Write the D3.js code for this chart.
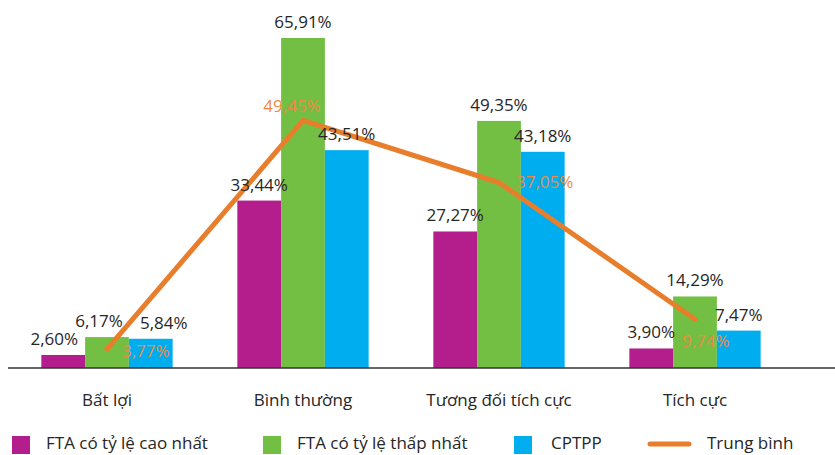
<!DOCTYPE html>
<html lang="vi">
<head>
<meta charset="UTF-8">
<title>Chart</title>
<script src="https://d3js.org/d3.v7.min.js"></script>
<style>
    body { margin: 0; background: #fff; }
    svg text { font-family: "Open Sans", sans-serif; fill: #262626; }
</style>
</head>
<body>
<svg id="chart"></svg>
<script>
const categories = ["Bất lợi", "Bình thường", "Tương đối tích cực", "Tích cực"];
const seriesNames = ["FTA có tỷ lệ cao nhất", "FTA có tỷ lệ thấp nhất", "CPTPP"];
const ftaHigh = [2.60, 33.44, 27.27, 3.90];
const ftaLow = [6.17, 65.91, 49.35, 14.29];
const cptpp = [5.84, 43.51, 43.18, 7.47];
const average = [3.77, 49.45, 37.05, 9.74];
const lineName = "Trung bình";

const width = 835, height = 455;
const colors = ["#b31e8c", "#72bf44", "#00aeef"];
const lineColor = "#e87e2b";

const fmt = v => d3.format(".2f")(v).replace(".", ",") + "%";

const svg = d3.select("#chart").attr("width", width).attr("height", height);

const x0 = d3.scaleBand().domain(categories).range([9, 793])
    .paddingInner(0.33).paddingOuter(0.165);
const x1 = d3.scaleBand().domain(seriesNames).range([0, x0.bandwidth()]);
const y = d3.scaleLinear().domain([0, 73.5]).range([368, 0]);

const series = [ftaHigh, ftaLow, cptpp];
const bars = [];
series.forEach((vals, s) => vals.forEach((v, i) => bars.push({ s, i, v })));

// small nudges so the first group's labels don't collide
const labelShift = (d) => d.i === 0 ? [-9, -8, 13][d.s] : 0;

svg.selectAll(".bar").data(bars).enter().append("rect")
    .attr("x", d => x0(categories[d.i]) + x1(seriesNames[d.s]))
    .attr("y", d => y(d.v))
    .attr("width", x1.bandwidth())
    .attr("height", d => y(0) - y(d.v))
    .attr("fill", d => colors[d.s]);

// axis line
svg.append("line")
    .attr("x1", 8).attr("x2", width)
    .attr("y1", y(0)).attr("y2", y(0))
    .attr("stroke", "#333").attr("stroke-width", 1.3);

// category labels
svg.selectAll(".cat").data(categories).enter().append("text")
    .attr("x", d => x0(d) + x0.bandwidth() / 2)
    .attr("y", 406)
    .attr("text-anchor", "middle")
    .style("font-size", "17px")
    .text(d => d);

// line
const cx = d => x0(d) + x0.bandwidth() / 2;
const line = d3.line().x((d, i) => cx(categories[i])).y(d => y(d));
svg.append("path")
    .datum(average)
    .attr("d", line)
    .attr("fill", "none")
    .attr("stroke", lineColor)
    .attr("stroke-width", 5)
    .attr("stroke-linecap", "round")
    .attr("stroke-linejoin", "round");

// bar labels
svg.selectAll(".blabel").data(bars).enter().append("text")
    .attr("x", d => x0(categories[d.i]) + x1(seriesNames[d.s]) + x1.bandwidth() / 2 + labelShift(d))
    .attr("y", d => y(d.v) - 10)
    .attr("text-anchor", "middle")
    .style("font-size", "17px")
    .text(d => fmt(d.v));

// average labels
const avgPos = [
    { dx: 15, dy: 8, anchor: "start" },
    { dx: -11, dy: -8, anchor: "middle" },
    { dx: 17, dy: 6, anchor: "start" },
    { dx: -13, dy: 28, anchor: "start" }
];
svg.selectAll(".alabel").data(average).enter().append("text")
    .attr("x", (d, i) => cx(categories[i]) + avgPos[i].dx)
    .attr("y", (d, i) => y(d) + avgPos[i].dy)
    .attr("text-anchor", (d, i) => avgPos[i].anchor)
    .style("font-size", "17px")
    .style("fill", "#ec8a45")
    .text(d => fmt(d));

// legend
const legendX = [12, 263, 514];
seriesNames.forEach((name, s) => {
    svg.append("rect")
        .attr("x", legendX[s]).attr("y", 436)
        .attr("width", 18).attr("height", 18)
        .attr("fill", colors[s]);
    svg.append("text")
        .attr("x", legendX[s] + (s === 2 ? 37 : 34)).attr("y", 449)
        .style("font-size", "17px")
        .text(name);
});
svg.append("line")
    .attr("x1", 650).attr("x2", 689)
    .attr("y1", 444).attr("y2", 444)
    .attr("stroke", lineColor).attr("stroke-width", 5)
    .attr("stroke-linecap", "round");
svg.append("text")
    .attr("x", 707).attr("y", 449)
    .style("font-size", "17px")
    .text(lineName);
</script>
</body>
</html>
